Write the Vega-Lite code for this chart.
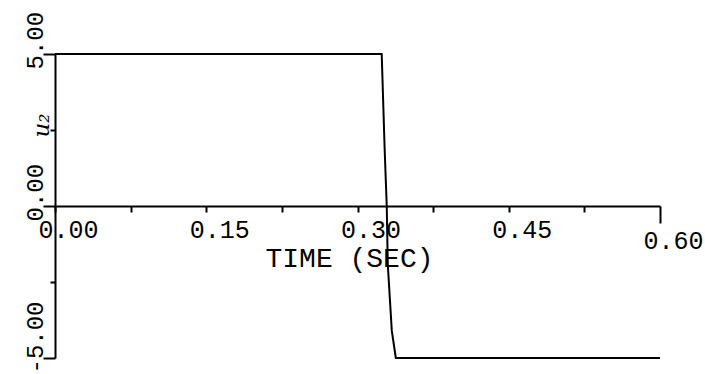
{
  "$schema": "https://vega.github.io/schema/vega-lite/v6.json",
  "width": 605,
  "height": 304,
  "autosize": {"type": "none"},
  "padding": {"left": 55, "top": 54, "right": 45, "bottom": 16},
  "background": "white",
  "config": {"view": {"stroke": null}},
  "data": {
    "values": [
      {"t": 0.0, "u": 5.0},
      {"t": 0.324, "u": 5.0},
      {"t": 0.327, "u": 1.8},
      {"t": 0.329, "u": 0.0},
      {"t": 0.330, "u": -1.9},
      {"t": 0.334, "u": -4.1},
      {"t": 0.338, "u": -5.0},
      {"t": 0.60, "u": -5.0}
    ]
  },
  "mark": {"type": "line", "color": "black", "strokeWidth": 2, "clip": false},
  "encoding": {
    "x": {
      "field": "t",
      "type": "quantitative",
      "scale": {"domain": [0, 0.6], "nice": false, "zero": false},
      "axis": {
        "title": "TIME (SEC)",
        "values": [0, 0.075, 0.15, 0.225, 0.3, 0.375, 0.45, 0.525, 0.6],
        "labelExpr": "datum.value == 0 ? '0.00' : datum.value == 0.15 ? '0.15' : datum.value == 0.3 ? '0.30' : datum.value == 0.45 ? '0.45' : datum.value == 0.6 ? '0.60' : ''",
        "offset": -152,
        "grid": false,
        "domainColor": "black",
        "domainWidth": 2,
        "tickColor": "black",
        "tickWidth": 2,
        "tickSize": {"condition": {"test": "datum.value == 0.6", "value": 17}, "value": 6},
        "labelFont": "Liberation Mono",
        "labelFontSize": 25,
        "labelColor": "black",
        "labelAlign": "left",
        "labelBaseline": "top",
        "labelOffset": -17,
        "labelPadding": 5,
        "labelOverlap": false,
        "labelFlush": false,
        "titleFont": "Liberation Mono",
        "titleFontSize": 28,
        "titleFontWeight": "normal",
        "titleColor": "black",
        "titleBaseline": "top",
        "titleAlign": "center",
        "titleX": 294,
        "titleY": 38
      }
    },
    "y": {
      "field": "u",
      "type": "quantitative",
      "scale": {"domain": [-5, 5], "nice": false, "zero": false},
      "axis": {
        "title": "u₂",
        "values": [-5, -2.5, 0, 2.5, 5],
        "labelExpr": "datum.value == 5 ? '5.00' : datum.value == 0 ? '0.00' : datum.value == -5 ? '-5.00' : ''",
        "grid": false,
        "domainColor": "black",
        "domainWidth": 2,
        "tickColor": "black",
        "tickWidth": 2,
        "tickSize": {"condition": {"test": "abs(datum.value) == 2.5", "value": 5}, "value": 12},
        "labelFont": "Liberation Mono",
        "labelFontSize": 24,
        "labelColor": "black",
        "labelAngle": 270,
        "labelAlign": "left",
        "labelBaseline": "alphabetic",
        "labelOffset": 15,
        "labelPadding": 1,
        "labelOverlap": false,
        "labelFlush": false,
        "titleFont": "DejaVu Serif",
        "titleFontStyle": "italic",
        "titleFontWeight": "normal",
        "titleFontSize": 23,
        "titleColor": "black",
        "titleAngle": 270,
        "titleAlign": "center",
        "titleBaseline": "alphabetic",
        "titleX": -7,
        "titleY": 71
      }
    }
  }
}
